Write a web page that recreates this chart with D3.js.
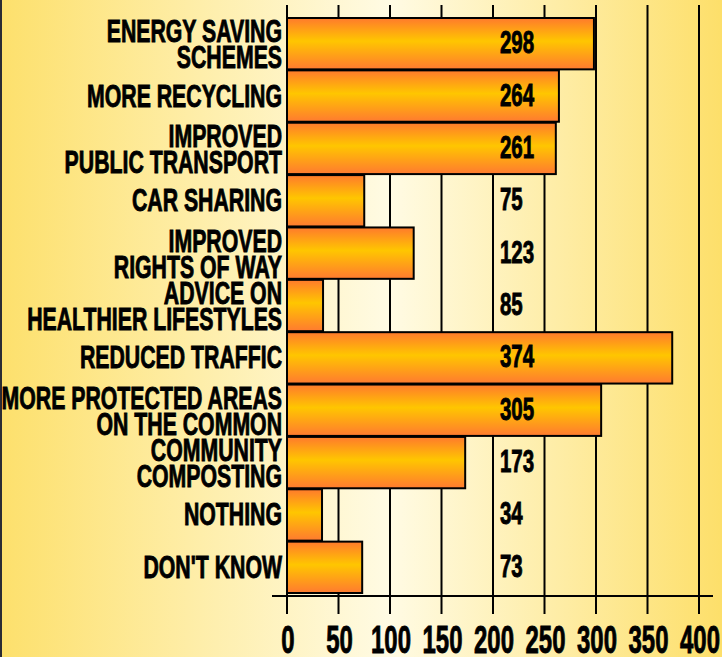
<!DOCTYPE html>
<html>
<head>
<meta charset="utf-8">
<script src="https://cdn.jsdelivr.net/npm/d3@7"></script>
<style>
  html, body { margin: 0; padding: 0; background: #fde37a; }
  svg { display: block; }
</style>
</head>
<body>
<script>
// categories (each entry is the lines of the label)
var categories = [
    ["ENERGY SAVING", "SCHEMES"],
    ["MORE RECYCLING"],
    ["IMPROVED", "PUBLIC TRANSPORT"],
    ["CAR SHARING"],
    ["IMPROVED", "RIGHTS OF WAY"],
    ["ADVICE ON", "HEALTHIER LIFESTYLES"],
    ["REDUCED TRAFFIC"],
    ["MORE PROTECTED AREAS", "ON THE COMMON"],
    ["COMMUNITY", "COMPOSTING"],
    ["NOTHING"],
    ["DON'T KNOW"]
];
// bar lengths as drawn in the picture
var barValues = [298, 264, 261, 75, 123, 35, 374, 305, 173, 34, 73];
// numbers printed next to the bars
var valueLabels = [298, 264, 261, 75, 123, 85, 374, 305, 173, 34, 73];
var tickValues = [0, 50, 100, 150, 200, 250, 300, 350, 400];

var width = 722, height = 657;

var svg = d3.select("body")
    .append("svg")
    .attr("width", width)
    .attr("height", height);

var defs = svg.append("defs");

//background: yellow at the edges, pale cream in the middle
var bg = defs.append("linearGradient")
    .attr("id", "bg")
    .attr("x1", "0%").attr("x2", "100%")
    .attr("y1", "0%").attr("y2", "0%");
bg.append("stop").attr("offset", "0%").attr("stop-color", "#fde06c");
bg.append("stop").attr("offset", "54%").attr("stop-color", "#fffbe4");
bg.append("stop").attr("offset", "100%").attr("stop-color", "#fddf6a");

//bars: orange on top/bottom, yellow in the middle
var barGrad = defs.append("linearGradient")
    .attr("id", "bar")
    .attr("x1", "0%").attr("x2", "0%")
    .attr("y1", "0%").attr("y2", "100%");
barGrad.append("stop").attr("offset", "0%").attr("stop-color", "#ff7a2c");
barGrad.append("stop").attr("offset", "45%").attr("stop-color", "#ffc600");
barGrad.append("stop").attr("offset", "100%").attr("stop-color", "#ff7a30");

svg.append("rect")
    .attr("width", width)
    .attr("height", height)
    .attr("fill", "url(#bg)");

svg.append("rect")
    .attr("x", 0).attr("y", 0)
    .attr("width", 2).attr("height", height)
    .attr("fill", "#2b2b33");

var x = d3.scaleLinear()
    .domain([0, 400])
    .range([287, 699]);

var y = d3.scaleBand()
    .domain(d3.range(categories.length))
    .range([17, 593])
    .padding(0);

var font = "'Liberation Sans', Arial, sans-serif";

//condensed heavy text, squeezed horizontally
var label = (g, tx, ty, str, size, sx, anchor) => {
    g.append("text")
        .attr("transform", `translate(${tx},${ty}) scale(${sx},1)`)
        .attr("text-anchor", anchor)
        .attr("font-family", font)
        .attr("font-weight", "bold")
        .attr("font-size", size + "px")
        .attr("fill", "black")
        .attr("stroke", "black")
        .attr("stroke-width", 0.9)
        .text(str);
};

//grid lines, behind the bars
svg.append("g")
    .selectAll("line")
    .data(tickValues)
    .enter().append("line")
    .attr("x1", d => x(d)).attr("x2", d => x(d))
    .attr("y1", 5).attr("y2", 614)
    .attr("stroke", "black")
    .attr("stroke-width", 2);

//x axis line
svg.append("line")
    .attr("x1", 272).attr("x2", 713)
    .attr("y1", 596).attr("y2", 596)
    .attr("stroke", "black")
    .attr("stroke-width", 2);

//tick labels
var tg = svg.append("g");
tickValues.forEach(t => label(tg, x(t) + 1, 653, t, 38, 0.63, "middle"));

//bars
svg.append("g")
    .selectAll("rect")
    .data(barValues)
    .enter().append("rect")
    .attr("x", x(0))
    .attr("y", (d, i) => y(i) + 1)
    .attr("width", d => x(d) - x(0))
    .attr("height", y.bandwidth() - 1)
    .attr("fill", "url(#bar)")
    .attr("stroke", "black")
    .attr("stroke-width", 2);

//category labels, right aligned next to the axis
var cg = svg.append("g");
categories.forEach((lines, i) => {
    var c = y(i) + y.bandwidth() / 2;
    if (lines.length == 1) {
        label(cg, 282, c + 11, lines[0], 32, 0.665, "end");
    } else {
        label(cg, 282, c - 1, lines[0], 32, 0.665, "end");
        label(cg, 282, c + 25, lines[1], 32, 0.665, "end");
    }
});

//values
var vg = svg.append("g");
valueLabels.forEach((v, i) => {
    label(vg, 500, y(i) + y.bandwidth() / 2 + 10, v, 31, 0.66, "start");
});
</script>
</body>
</html>
